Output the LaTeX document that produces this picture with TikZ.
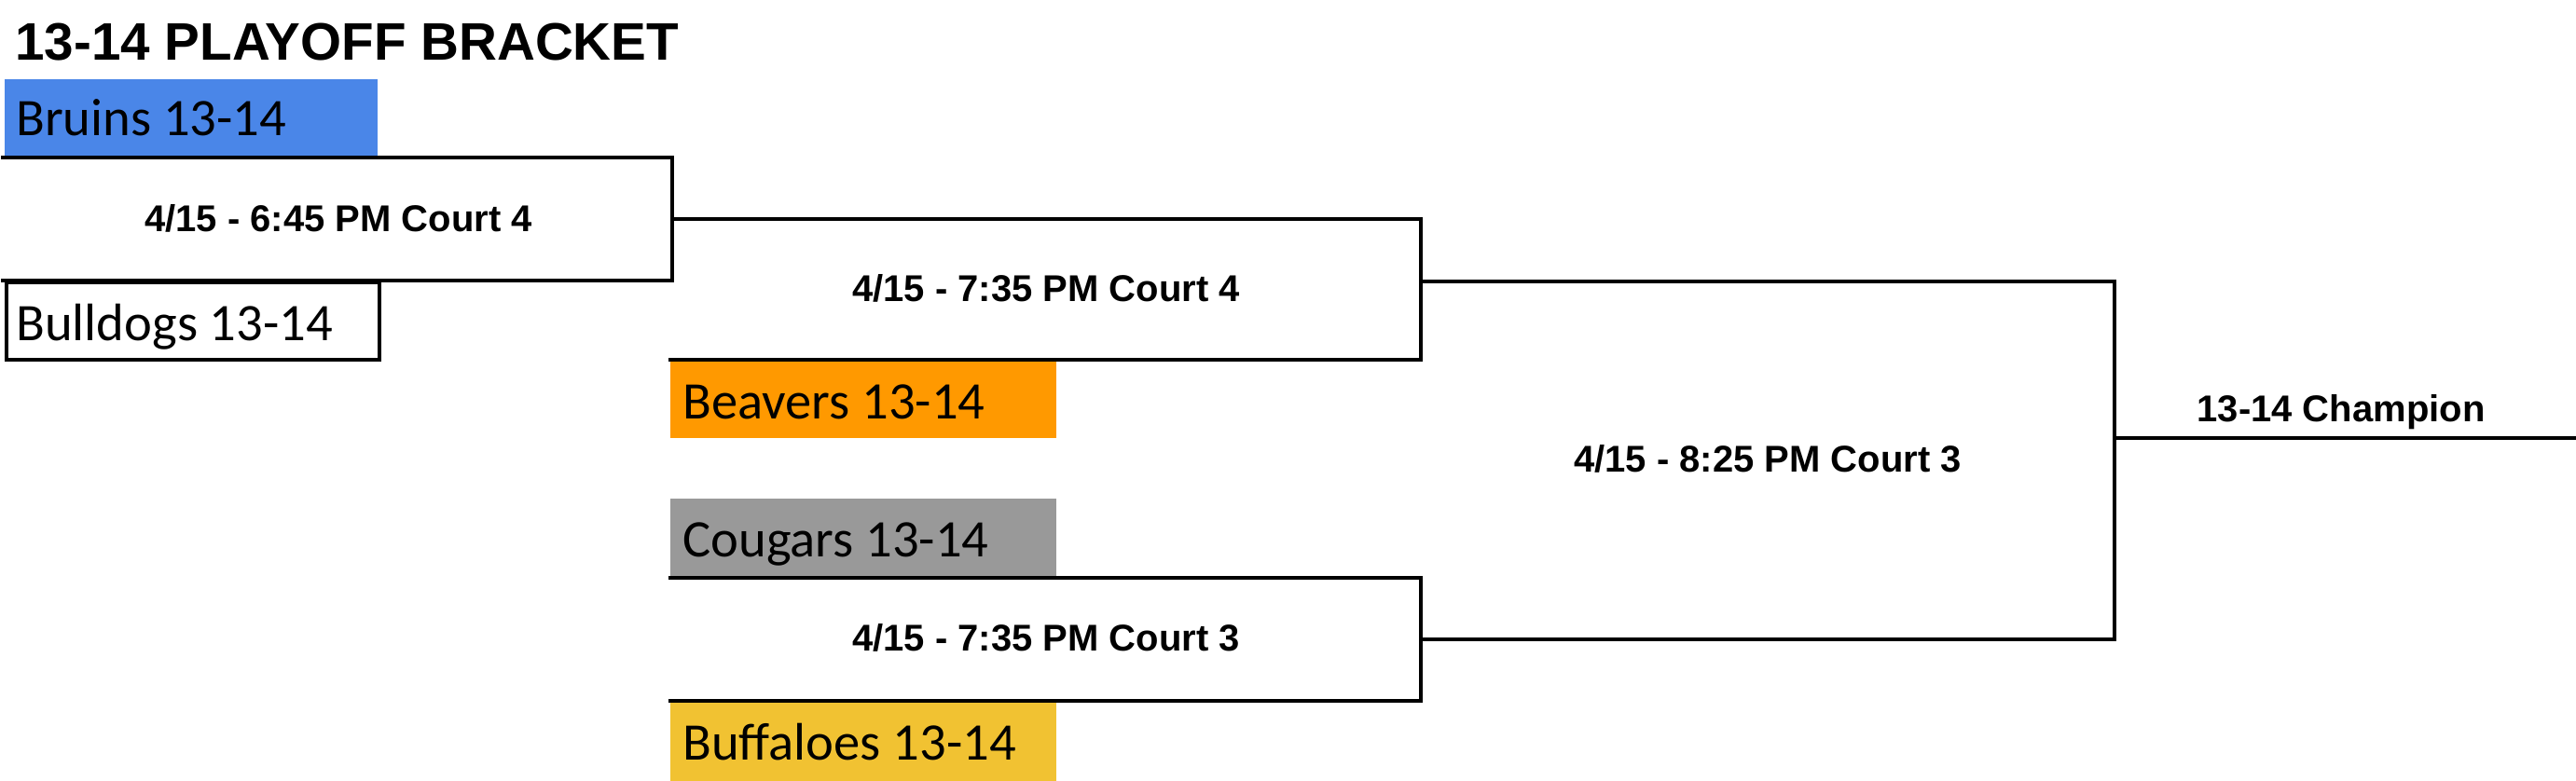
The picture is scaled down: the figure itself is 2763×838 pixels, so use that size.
\documentclass[tikz,border=0pt]{standalone}
\usepackage{fontspec}
\setmainfont{Liberation Sans}
\newfontfamily\calibri{Carlito}
\definecolor{bruinblue}{HTML}{4A86E8}
\definecolor{beaverorange}{HTML}{FF9900}
\definecolor{cougargray}{HTML}{999999}
\definecolor{buffaloyellow}{HTML}{F1C232}
\begin{document}
\begin{tikzpicture}[x=0.5pt,y=-0.5pt,
  team/.style={inner sep=0pt, anchor=north west, minimum height=42pt},
  teamtext/.style={inner sep=0pt, anchor=base west, font=\calibri\fontsize{28.3}{32}\selectfont},
  game/.style={inner sep=0pt, anchor=base, font=\bfseries\fontsize{20}{24}\selectfont},
  bline/.style={line width=1.8pt, line cap=rect}]
\useasboundingbox[fill=white] (0,0) rectangle (2763,838);
% title
\node[inner sep=0pt, anchor=base west, font=\bfseries\fontsize{28.3}{32}\selectfont] (title) at (16,65) {13-14 PLAYOFF BRACKET};
% team boxes
\node[team, fill=bruinblue, minimum width=200pt] (bruins) at (5,85) {};
\node[team, draw=black, line width=1.8pt, minimum width=200pt, minimum height=41.5pt] (bulldogs) at (5,301) {};
\node[team, fill=beaverorange, minimum width=207pt] (beavers) at (719,386) {};
\node[team, fill=cougargray, minimum width=207pt] (cougars) at (719,535) {};
\node[team, fill=buffaloyellow, minimum width=207pt, minimum height=43pt] (buffaloes) at (719,752) {};
% team names
\node[teamtext] (tbruins) at (17,146) {Bruins 13-14};
\node[teamtext] (tbulldogs) at (17,366) {Bulldogs 13-14};
\node[teamtext] (tbeavers) at (732,450) {Beavers 13-14};
\node[teamtext] (tcougars) at (732,598) {Cougars 13-14};
\node[teamtext] (tbuffaloes) at (732,815) {Buffaloes 13-14};
% bracket corners
\coordinate (m1tl) at (3,169);   \coordinate (m1tr) at (721,169);
\coordinate (m1br) at (721,301); \coordinate (m1bl) at (3,301);
\coordinate (m2tl) at (721,235); \coordinate (m2tr) at (1524,235);
\coordinate (m2br) at (1524,386);\coordinate (m2bl) at (719,386);
\coordinate (m3tl) at (719,620); \coordinate (m3tr) at (1524,620);
\coordinate (m3br) at (1524,752);\coordinate (m3bl) at (719,752);
\coordinate (ftl) at (1524,302); \coordinate (ftr) at (2268,302);
\coordinate (fbr) at (2268,686); \coordinate (fbl) at (1524,686);
\coordinate (cl) at (2268,470);  \coordinate (cr) at (2763,470);
% bracket lines
\draw[bline] (m1tl) -- (m1tr) -- (m1br) -- (m1bl);
\draw[bline] (m2tl) -- (m2tr) -- (m2br) -- (m2bl);
\draw[bline] (m3tl) -- (m3tr) -- (m3br) -- (m3bl);
\draw[bline] (ftl) -- (ftr) -- (fbr) -- (fbl);
\draw[line width=1.8pt] (cl) -- (cr);
% game labels
\node[game] (g1) at (363,249) {4/15 - 6:45 PM Court 4};
\node[game] (g2) at (1122,324) {4/15 - 7:35 PM Court 4};
\node[game] (g3) at (1122,699) {4/15 - 7:35 PM Court 3};
\node[game] (g4) at (1896,507) {4/15 - 8:25 PM Court 3};
\node[game] (champ) at (2511,453) {13-14 Champion};
\end{tikzpicture}
\end{document}
